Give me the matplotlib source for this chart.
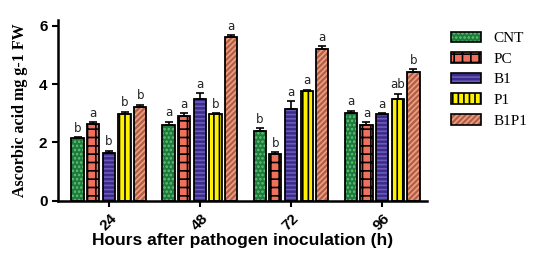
import numpy as np
import matplotlib
matplotlib.use('Agg')
import matplotlib.pyplot as plt
from matplotlib.patches import Patch

hours = ['24', '48', '72', '96']
treatments = ['CNT', 'PC', 'B1', 'P1', 'B1P1']

cnt = [2.16, 2.61, 2.40, 3.01]
pc = [2.62, 2.91, 1.60, 2.61]
b1 = [1.62, 3.50, 3.16, 2.98]
p1 = [2.97, 2.96, 3.78, 3.50]
b1p1 = [3.22, 5.61, 5.22, 4.43]

cnt_err = [0.03, 0.10, 0.08, 0.08]
pc_err = [0.08, 0.10, 0.07, 0.08]
b1_err = [0.10, 0.20, 0.25, 0.03]
p1_err = [0.08, 0.05, 0.03, 0.17]
b1p1_err = [0.08, 0.07, 0.08, 0.08]

cnt_lab = ['b', 'a', 'b', 'a']
pc_lab = ['a', 'a', 'b', 'a']
b1_lab = ['b', 'a', 'a', 'a']
p1_lab = ['b', 'b', 'a', 'ab']
b1p1_lab = ['b', 'a', 'a', 'b']

values = [cnt, pc, b1, p1, b1p1]
errors = [cnt_err, pc_err, b1_err, p1_err, b1p1_err]
letters = [cnt_lab, pc_lab, b1_lab, p1_lab, b1p1_lab]

# face colour, hatch colour, hatch pattern
styles = [('#1e7a3a', '#5fc27a', '....'),
          ('#f0705e', '#000000', '++'),
          ('#3c2b8a', '#6a5cb8', '----'),
          ('#fff200', '#000000', '|||'),
          ('#b06048', '#f0a080', '//////')]

plt.rcParams['hatch.linewidth'] = 1.2

fig = plt.figure(figsize=(5.36, 2.59), dpi=100)
ax = fig.add_axes([0.108, 0.225, 0.688, 0.698])

x = np.arange(len(hours))
pitch = 0.172
width = 0.135
for i, name in enumerate(treatments):
    pos = x + (i - 2) * pitch
    fc, hc, hatch = styles[i]
    ax.bar(pos, values[i], width, color=fc, edgecolor=hc, hatch=hatch, linewidth=0, zorder=2)
    ax.bar(pos, values[i], width, fill=False, edgecolor='black', linewidth=1.3, zorder=3)
    ax.errorbar(pos, values[i], yerr=[np.zeros(4), errors[i]], fmt='none',
                ecolor='black', elinewidth=1.2, capsize=3, capthick=1.2, zorder=4)
    for xp, v, e, t in zip(pos, values[i], errors[i], letters[i]):
        ax.text(xp, v + e + 0.08, t, ha='center', va='bottom', fontsize=8.5,
                family='DejaVu Sans', color='#222222')

ax.set_xlim(-0.56, 3.49)
ax.set_ylim(0, 6.2)
ax.set_yticks([0, 2, 4, 6])
ax.set_xticks(x)
ax.set_xticklabels(hours, rotation=45, fontsize=11, fontweight='bold', family='Liberation Sans')
for lab in ax.get_yticklabels():
    lab.set_fontsize(11)
    lab.set_fontweight('bold')
    lab.set_family('Liberation Sans')

for s in ['top', 'right']:
    ax.spines[s].set_visible(False)
for s in ['left', 'bottom']:
    ax.spines[s].set_linewidth(1.8)
ax.tick_params(width=1.5, length=4)

ax.set_xlabel('Hours after pathogen inoculation (h)', fontsize=12.5, fontweight='bold',
              family='Liberation Sans', labelpad=0)
ax.set_ylabel('Ascorbic acid mg g-1 FW', fontsize=11.5, fontweight='bold',
              family='Liberation Serif', labelpad=8)

handles = [(Patch(facecolor=st[0], edgecolor=st[1], hatch=st[2], linewidth=0),
            Patch(fill=False, edgecolor='black', linewidth=1.2)) for st in styles]
leg = fig.legend(handles, treatments, loc='upper left', bbox_to_anchor=(0.818, 0.925),
                 frameon=False, prop={'family': 'Liberation Serif', 'size': 11},
                 handlelength=2.0, handleheight=0.7, labelspacing=0.45, handletextpad=0.8,
                 borderpad=0.3)

fig.savefig('out.png', dpi=100)
